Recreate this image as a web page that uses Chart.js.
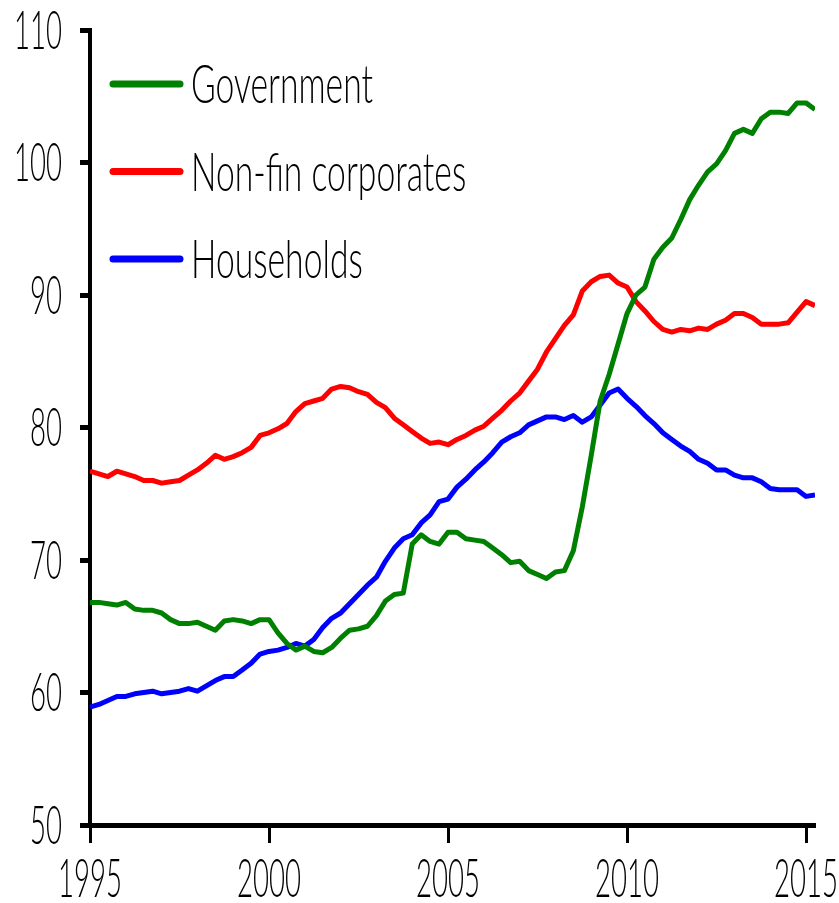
<!DOCTYPE html>
<html>
<head>
<meta charset="utf-8">
<title>Debt by sector</title>
<style>
    html, body { margin: 0; padding: 0; background: #ffffff; }
    #wrap { width: 839px; height: 903px; position: relative; }
</style>
</head>
<body>
<div id="wrap"><canvas id="debtChart" width="839" height="903"></canvas></div>
<script src="https://cdn.jsdelivr.net/npm/chart.js@4.4.1/dist/chart.umd.min.js"></script>
<script>
// Quarterly series, 1995Q1 .. 2015Q2
const firstYear = 1995;

const government = [
    66.8, 66.8, 66.7, 66.6, 66.8, 66.3, 66.2, 66.2, 66.0, 65.5, 65.2, 65.2, 65.3, 65.0, 64.7, 65.4, 65.5, 65.4, 65.2, 65.5,
    65.5, 64.5, 63.7, 63.2, 63.5, 63.1, 63.0, 63.4, 64.1, 64.7, 64.8, 65.0, 65.8, 66.9, 67.4, 67.5, 71.2, 71.9, 71.4, 71.2,
    72.1, 72.1, 71.6, 71.5, 71.4, 70.9, 70.4, 69.8, 69.9, 69.2, 68.9, 68.6, 69.1, 69.2, 70.7, 74.0, 77.9, 82.0, 84.0, 86.3,
    88.6, 90.0, 90.6, 92.7, 93.6, 94.3, 95.7, 97.2, 98.3, 99.3, 99.9, 100.9, 102.2, 102.5, 102.2, 103.3, 103.8, 103.8, 103.7, 104.5,
    104.5, 104.0
];

const corporates = [
    76.7, 76.5, 76.3, 76.7, 76.5, 76.3, 76.0, 76.0, 75.8, 75.9, 76.0, 76.4, 76.8, 77.3, 77.9, 77.6, 77.8, 78.1, 78.5, 79.4,
    79.6, 79.9, 80.3, 81.2, 81.8, 82.0, 82.2, 82.9, 83.1, 83.0, 82.7, 82.5, 81.9, 81.5, 80.7, 80.2, 79.7, 79.2, 78.8, 78.9,
    78.7, 79.1, 79.4, 79.8, 80.1, 80.7, 81.3, 82.0, 82.6, 83.5, 84.4, 85.7, 86.7, 87.7, 88.5, 90.3, 91.0, 91.4, 91.5, 90.9,
    90.6, 89.5, 88.8, 88.0, 87.4, 87.2, 87.4, 87.3, 87.5, 87.4, 87.8, 88.1, 88.6, 88.6, 88.3, 87.8, 87.8, 87.8, 87.9, 88.7,
    89.5, 89.2
];

const households = [
    58.9, 59.1, 59.4, 59.7, 59.7, 59.9, 60.0, 60.1, 59.9, 60.0, 60.1, 60.3, 60.1, 60.5, 60.9, 61.2, 61.2, 61.7, 62.2, 62.9,
    63.1, 63.2, 63.4, 63.7, 63.5, 64.0, 64.9, 65.6, 66.0, 66.7, 67.4, 68.1, 68.7, 69.9, 70.9, 71.6, 71.9, 72.8, 73.4, 74.4,
    74.6, 75.5, 76.1, 76.8, 77.4, 78.1, 78.9, 79.3, 79.6, 80.2, 80.5, 80.8, 80.8, 80.6, 80.9, 80.4, 80.8, 81.7, 82.6, 82.9,
    82.2, 81.6, 80.9, 80.3, 79.6, 79.1, 78.6, 78.2, 77.6, 77.3, 76.8, 76.8, 76.4, 76.2, 76.2, 75.9, 75.4, 75.3, 75.3, 75.3,
    74.8, 74.9
];

const seriesNames = ['Government', 'Non-fin corporates', 'Households'];
const xTickYears = [1995, 2000, 2005, 2010, 2015];
const yTickValues = [50, 60, 70, 80, 90, 100, 110];

// x positions of quarters (decimal years)
const quarters = government.map((_, i) => firstYear + i / 4);

const FONT = '300 53px Lato, Roboto, "Liberation Sans", sans-serif';

// draw text squeezed horizontally, the original uses a condensed face
function drawSqueezed(ctx, text, x, y, align, squeeze) {
    ctx.save();
    ctx.translate(x, y);
    ctx.scale(squeeze, 1);
    ctx.textAlign = align;
    ctx.textBaseline = 'alphabetic';
    ctx.fillText(text, 0, 0);
    ctx.restore();
}

// tick labels and in-plot legend
const labelPlugin = {
    id: 'labelPlugin',
    afterDraw(chart) {
        const ctx = chart.ctx;
        const xs = chart.scales.x;
        const ys = chart.scales.y;
        ctx.save();
        ctx.fillStyle = '#000000';
        ctx.font = FONT;

        // condensed widths as in the original: "2000" ~64px, "Government" ~182px
        const digitSqueeze = 64 / ctx.measureText('2000').width;
        const textSqueeze = 182 / ctx.measureText('Government').width;

        yTickValues.forEach(v => {
            drawSqueezed(ctx, String(v), 62, ys.getPixelForValue(v) + 18.5, 'right', digitSqueeze);
        });
        xTickYears.forEach(v => {
            drawSqueezed(ctx, String(v), xs.getPixelForValue(v), 897, 'center', digitSqueeze);
        });

        // legend
        chart.data.datasets.forEach((ds, i) => {
            const rowY = 84 + i * 87.5;
            ctx.beginPath();
            ctx.strokeStyle = ds.borderColor;
            ctx.lineWidth = 7;
            ctx.lineCap = 'round';
            ctx.moveTo(113, rowY);
            ctx.lineTo(180, rowY);
            ctx.stroke();
            drawSqueezed(ctx, ds.label, 191, rowY + 19, 'left', textSqueeze);
        });
        ctx.restore();
    }
};

function makeDataset(label, values, color) {
    return {
        label: label,
        data: values,
        borderColor: color,
        backgroundColor: color,
        borderWidth: 5,
        pointRadius: 0,
        tension: 0,
        borderJoinStyle: 'round',
        fill: false
    };
}

const chart = new Chart(document.getElementById('debtChart').getContext('2d'), {
    type: 'line',
    data: {
        labels: quarters,
        datasets: [
            makeDataset(seriesNames[0], government, '#008000'),
            makeDataset(seriesNames[1], corporates, '#ff0000'),
            makeDataset(seriesNames[2], households, '#0000ff')
        ]
    },
    options: {
        responsive: false,
        animation: false,
        devicePixelRatio: 1,
        layout: { padding: { top: 30, right: 24, left: 0, bottom: 0 } },
        plugins: {
            legend: { display: false },
            tooltip: { enabled: false }
        },
        scales: {
            x: {
                type: 'linear',
                min: firstYear,
                max: quarters[quarters.length - 1],
                afterBuildTicks: s => { s.ticks = xTickYears.map(v => ({ value: v })); },
                afterFit: s => { s.height = 78; },
                grid: {
                    drawOnChartArea: false,
                    drawTicks: true,
                    tickLength: 18,
                    tickWidth: 3,
                    tickColor: '#000000'
                },
                border: { display: true, color: '#000000', width: 5 },
                ticks: { display: false }
            },
            y: {
                min: 50,
                max: 110,
                afterBuildTicks: s => { s.ticks = yTickValues.map(v => ({ value: v })); },
                afterFit: s => { s.width = 90; },
                grid: {
                    drawOnChartArea: false,
                    drawTicks: true,
                    tickLength: 10,
                    tickWidth: 5,
                    tickColor: '#000000'
                },
                border: { display: true, color: '#000000', width: 4 },
                ticks: { display: false }
            }
        }
    },
    plugins: [labelPlugin]
});
</script>
</body>
</html>
